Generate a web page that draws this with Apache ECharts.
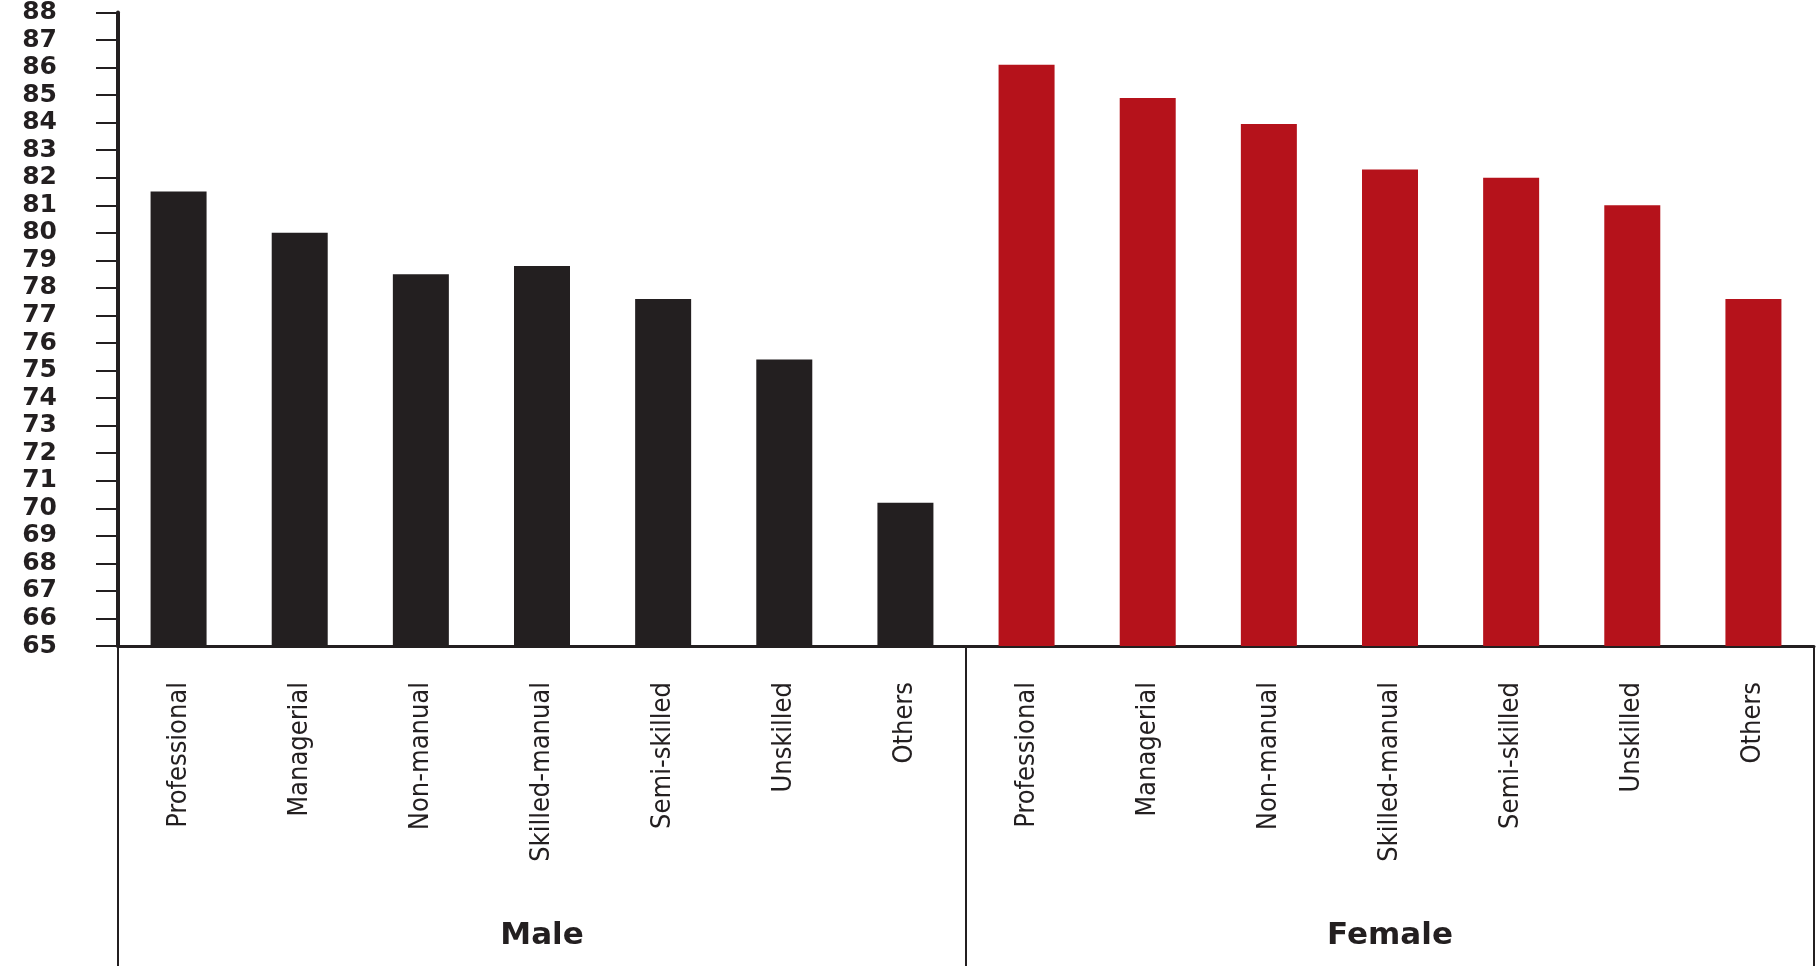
<!DOCTYPE html>
<html>
<head>
<meta charset="utf-8">
<script src="https://cdn.jsdelivr.net/npm/echarts@6/dist/echarts.min.js"></script>
<style>html,body{margin:0;padding:0;background:#fff}#c{width:1818px;height:966px}</style>
</head>
<body>
<div id="c"></div>
<script>
const occupations = ['Professional','Managerial','Non-manual','Skilled-manual','Semi-skilled','Unskilled','Others'];
const groups = ['Male','Female'];
const maleValues = [81.5, 80.0, 78.5, 78.8, 77.6, 75.4, 70.2];
const femaleValues = [86.1, 84.9, 83.95, 82.3, 82.0, 81.0, 77.6];
const yTicks = {min: 65, max: 88, interval: 1};

const categories = occupations.concat(occupations);
const maleData = maleValues.concat(occupations.map(() => '-'));
const femaleData = occupations.map(() => '-').concat(femaleValues);

const chart = echarts.init(document.getElementById('c'));
chart.setOption({
  animation: false,
  grid: {left: 118, right: 4, top: 12, bottom: 320},
  xAxis: [{
    type: 'category',
    data: categories,
    axisLine: {show: true, onZero: false, lineStyle: {color: '#231f20', width: 3}},
    axisTick: {show: false},
    axisLabel: {
      interval: 0, rotate: 90, margin: 36,
      fontFamily: '"Liberation Sans Narrow","DejaVu Sans Condensed","Noto Sans",sans-serif',
      fontSize: 27, color: '#231f20'
    }
  }, {
    type: 'category',
    data: groups,
    position: 'bottom',
    axisLine: {show: false},
    axisTick: {show: true, length: 320, interval: 0, lineStyle: {color: '#231f20', width: 2}},
    axisLabel: {
      interval: 0, margin: 274,
      fontFamily: '"DejaVu Sans",sans-serif',
      fontWeight: 'bold', fontSize: 31, color: '#231f20'
    }
  }],
  yAxis: {
    type: 'value',
    min: yTicks.min, max: yTicks.max, interval: yTicks.interval,
    splitLine: {show: false},
    axisLine: {show: true, lineStyle: {color: '#231f20', width: 4}},
    axisTick: {show: true, length: 22, lineStyle: {color: '#231f20', width: 2}},
    axisLabel: {
      margin: 61,
      fontFamily: '"DejaVu Sans",sans-serif',
      fontWeight: 'bold', fontSize: 25, color: '#231f20'
    }
  },
  series: [{
    name: 'Male', type: 'bar', xAxisIndex: 0,
    data: maleData, barWidth: 56, barGap: '-100%',
    itemStyle: {color: '#231f20'}
  }, {
    name: 'Female', type: 'bar', xAxisIndex: 0,
    data: femaleData, barWidth: 56, barGap: '-100%',
    itemStyle: {color: '#b5121b'}
  }]
});
</script>
</body>
</html>
